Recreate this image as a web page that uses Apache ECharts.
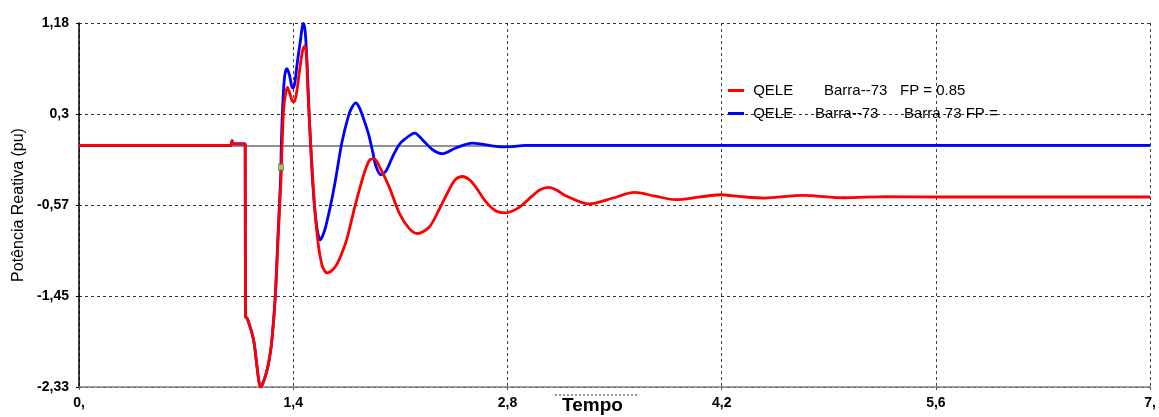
<!DOCTYPE html>
<html>
<head>
<meta charset="utf-8">
<script src="https://cdn.jsdelivr.net/npm/echarts@6/dist/echarts.min.js"></script>
<style>
  html, body { margin: 0; padding: 0; background: #fff; }
  #chart { width: 1159px; height: 417px; }
</style>
</head>
<body>
<div id="chart"></div>
<script>
// ---- data ----
const seriesNames = ['QELE Barra--73 FP = 0.85', 'QELE Barra--73 Barra 73 FP ='];
const legendParts = [
  ['QELE', 'Barra--73', 'FP = 0.85'],
  ['QELE', 'Barra--73', 'Barra 73 FP =']
];
const xTickLabels = ['0,', '1,4', '2,8', '4,2', '5,6', '7,'];
const yTickValues = [-2.33, -1.4525, -0.575, 0.3025, 1.18];
const yTickLabels = ['-2,33', '-1,45', '-0,57', '0,3', '1,18'];

const redTime = [0, 0.99, 1.0, 1.006, 1.08, 1.086, 1.088, 1.10, 1.14, 1.163, 1.175, 1.186, 1.20, 1.225, 1.245, 1.261,
  1.283, 1.304, 1.32, 1.326, 1.337, 1.35, 1.362, 1.378, 1.393, 1.405, 1.42, 1.445, 1.462, 1.476, 1.487, 1.495, 1.51,
  1.528, 1.543, 1.565, 1.587, 1.605, 1.623, 1.65, 1.684, 1.715, 1.749, 1.803, 1.857, 1.897, 1.929, 1.962, 2.027,
  2.092, 2.157, 2.211, 2.288, 2.353, 2.418, 2.46, 2.505, 2.55, 2.592, 2.657, 2.722, 2.788, 2.874, 2.961, 3.01, 3.07,
  3.12, 3.179, 3.333, 3.485, 3.63, 3.767, 3.90, 4.05, 4.19, 4.33, 4.48, 4.73, 5.0, 5.28, 5.6, 7.0];
const redValue = [0, 0, 0.045, 0.015, 0.015, 0.015, -1.65, -1.67, -1.87, -2.13, -2.27, -2.33, -2.30, -2.19, -2.05, -1.87,
  -1.45, -0.81, -0.33, -0.05, 0.34, 0.50, 0.56, 0.50, 0.43, 0.42, 0.49, 0.76, 0.92, 0.96, 0.85, 0.55, 0.12,
  -0.33, -0.65, -0.97, -1.15, -1.21, -1.23, -1.21, -1.15, -1.05, -0.91, -0.59, -0.30, -0.145, -0.13, -0.20, -0.40,
  -0.65, -0.80, -0.85, -0.79, -0.62, -0.43, -0.33, -0.30, -0.33, -0.40, -0.54, -0.63, -0.65, -0.60, -0.49, -0.43, -0.405,
  -0.43, -0.485, -0.565, -0.51, -0.454, -0.49, -0.524, -0.50, -0.476, -0.495, -0.508, -0.482, -0.505, -0.495, -0.498, -0.498];

const blueTime = [0, 0.99, 1.0, 1.006, 1.08, 1.086, 1.088, 1.10, 1.14, 1.163, 1.175, 1.186, 1.20, 1.225, 1.245, 1.261,
  1.283, 1.302, 1.318, 1.322, 1.333, 1.345, 1.359, 1.375, 1.39, 1.398, 1.41, 1.425, 1.445, 1.466, 1.478, 1.49, 1.50,
  1.512, 1.528, 1.543, 1.56, 1.576, 1.59, 1.609, 1.641, 1.673, 1.717, 1.76, 1.785, 1.81, 1.83, 1.847, 1.89, 1.922,
  1.94, 1.973, 2.005, 2.049, 2.092, 2.125, 2.194, 2.244, 2.309, 2.374, 2.462, 2.57, 2.722, 2.809, 2.918, 3.1, 7.0];
const blueValue = [0, 0, 0.045, 0.015, 0.015, 0.015, -1.65, -1.67, -1.87, -2.13, -2.27, -2.33, -2.30, -2.19, -2.05, -1.87,
  -1.45, -0.81, -0.30, 0.0, 0.44, 0.68, 0.74, 0.68, 0.57, 0.553, 0.60, 0.78, 0.99, 1.175, 1.10, 0.80, 0.45,
  0.05, -0.38, -0.65, -0.84, -0.91, -0.88, -0.80, -0.60, -0.36, 0.02, 0.28, 0.37, 0.41, 0.37, 0.31, 0.12, -0.08,
  -0.20, -0.283, -0.25, -0.11, 0.006, 0.055, 0.119, 0.055, -0.04, -0.08, -0.025, 0.022, -0.01, -0.015, 0.0, 0.0, 0.0];

const markerTime = [1.32];
const markerValue = [-0.21];

// ---- chart ----
const FONT = '"Liberation Sans", Arial, sans-serif';
const chart = echarts.init(document.getElementById('chart'), null, { renderer: 'canvas' });

function nearestLabel(v) {
  let best = 0, bd = Infinity;
  yTickValues.forEach((t, i) => { const d = Math.abs(t - v); if (d < bd) { bd = d; best = i; } });
  return yTickLabels[best];
}

const legendRich = {
  ra: { width: 75, fontSize: 15, fontFamily: FONT, color: '#000', lineHeight: 16 },
  rb: { width: 76, fontSize: 15, fontFamily: FONT, color: '#000', lineHeight: 16 },
  ba: { width: 66, fontSize: 15, fontFamily: FONT, color: '#000', lineHeight: 16 },
  bb: { width: 89, fontSize: 15, fontFamily: FONT, color: '#000', lineHeight: 16 },
  c: { fontSize: 15, fontFamily: FONT, color: '#000', lineHeight: 16 }
};

const option = {
  animation: false,
  backgroundColor: '#fff',
  grid: { left: 79, right: 6, top: 23, bottom: 30, containLabel: false },
  legend: {
    data: seriesNames.map(n => ({ name: n, icon: 'rect' })),
    orient: 'vertical',
    left: 728,
    top: 83,
    padding: 0,
    itemGap: 8,
    itemWidth: 16,
    itemHeight: 3,
    selectedMode: false,
    textStyle: { rich: legendRich, fontSize: 15, fontFamily: FONT, color: '#000' },
    formatter: function (name) {
      const i = seriesNames.indexOf(name);
      const p = legendParts[i];
      if (i === 0) return '{ra| ' + p[0] + '}{rb|' + p[1] + '}{c|' + p[2] + '}';
      return '{ba| ' + p[0] + '}{bb|' + p[1] + '}{c|' + p[2] + '}';
    }
  },
  xAxis: [
    {
      type: 'value', min: 0, max: 7, interval: 1.4,
      position: 'bottom',
      axisLine: { onZero: false, lineStyle: { color: '#808080', width: 1.5 } },
      axisTick: { show: true, length: 3, lineStyle: { color: '#555' } },
      axisLabel: {
        margin: 9, fontSize: 14, fontWeight: 'bold', fontFamily: FONT, color: '#000',
        formatter: function (v, i) { return xTickLabels[i] !== undefined ? xTickLabels[i] : ''; }
      },
      splitLine: { show: true, lineStyle: { color: '#444', type: [3, 3], width: 1 } }
    },
    {
      type: 'value', min: 0, max: 7,
      position: 'bottom',
      axisLine: { onZero: true, lineStyle: { color: '#6e6e6e', width: 1.5 } },
      axisTick: { show: false }, axisLabel: { show: false }, splitLine: { show: false }
    }
  ],
  yAxis: {
    type: 'value', min: -2.33, max: 1.18,
    name: 'Potência Reativa (pu)',
    nameLocation: 'middle',
    nameGap: 51,
    nameTextStyle: { fontSize: 16, fontFamily: FONT, color: '#000' },
    axisLine: { show: true, lineStyle: { color: '#000', width: 1.5 } },
    axisTick: { show: true, length: 3, customValues: yTickValues, lineStyle: { color: '#000' } },
    axisLabel: {
      customValues: yTickValues,
      margin: 10, fontSize: 14, fontWeight: 'bold', fontFamily: FONT, color: '#000',
      formatter: function (v) { return nearestLabel(v); }
    },
    splitLine: { show: true, lineStyle: { color: '#333', type: [3, 3], width: 1 } }
  },
  series: [
    {
      name: seriesNames[0], type: 'line', xAxisIndex: 0,
      data: redTime.map((t, i) => [t, redValue[i]]),
      showSymbol: false, smooth: 0.3, z: 4,
      itemStyle: { color: '#ff0000' },
      lineStyle: { color: '#ff0000', width: 2.8 }
    },
    {
      name: seriesNames[1], type: 'line', xAxisIndex: 0,
      data: blueTime.map((t, i) => [t, blueValue[i]]),
      showSymbol: false, smooth: 0.3, z: 3,
      itemStyle: { color: '#0000ff' },
      lineStyle: { color: '#0000ff', width: 2.8 }
    },
    {
      name: 'marker', type: 'scatter', xAxisIndex: 0,
      data: markerTime.map((t, i) => [t, markerValue[i]]),
      symbol: 'rect', symbolSize: [5, 6], z: 5,
      itemStyle: { color: '#c8e048', borderColor: '#2a8a6a', borderWidth: 1 }
    }
  ],
  graphic: [
    {
      type: 'line', silent: true,
      shape: { x1: 555, y1: 395, x2: 638, y2: 395 },
      style: { stroke: '#333', lineWidth: 1, lineDash: [2, 2] }
    },
    {
      type: 'text', left: 562, top: 396, silent: true,
      style: { text: 'Tempo', fontSize: 19, fontWeight: 'bold', fontFamily: FONT, fill: '#000' }
    }
  ]
};
chart.setOption(option);
</script>
</body>
</html>
